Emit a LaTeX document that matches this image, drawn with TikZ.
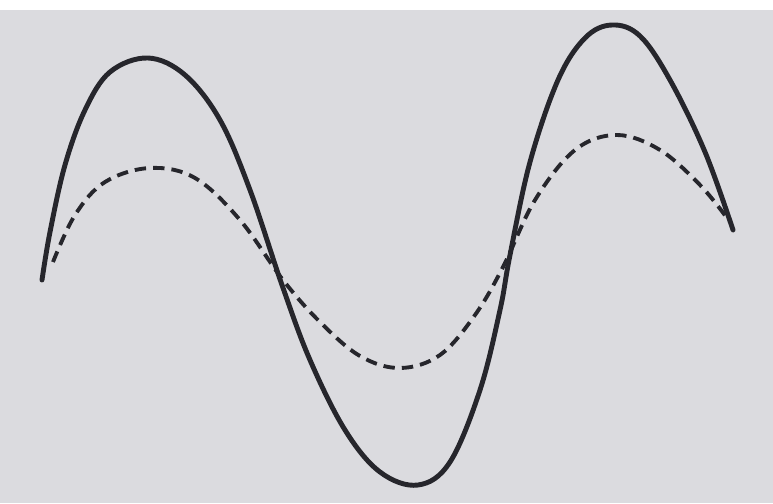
\documentclass[tikz,border=0pt]{standalone}
\usetikzlibrary{backgrounds}
\definecolor{paper}{RGB}{219,219,223}
\definecolor{ink}{RGB}{38,38,44}
\begin{document}
\begin{tikzpicture}[
  x=0.02cm, y=-0.02cm,
  wave/.style={draw=ink, line width=2.8pt, line cap=round, line join=round},
  damped/.style={draw=ink, line width=2.2pt, dash pattern=on 6.5pt off 4pt},
]
  \useasboundingbox (0,0) rectangle (773,503);
  \fill[white] (0,0) rectangle (773,503);
  \fill[paper] (0,10) rectangle (773,503);

  % solid wave
  \draw[wave] plot[smooth, tension=0.6] coordinates {
    (42,280) (50,232) (65,165) (85,110) (110,72) (148,58) (185,75)
    (220,120) (250,190) (282,285) (310,360) (345,430) (380,472)
    (418,485) (450,462) (480,390) (500,310) (510,255) (530,162)
    (558,80) (585,38) (612,25) (640,36) (670,80) (705,152) (733,230)};

  % dashed wave
  \draw[damped] plot[smooth, tension=0.6] coordinates {
    (53,262) (75,215) (105,182) (150,168) (195,178) (240,220)
    (283,280) (320,322) (360,356) (400,368) (440,355) (475,315)
    (503,267) (535,200) (575,150) (617,135) (660,150) (700,185) (727,218)};
\end{tikzpicture}
\end{document}
